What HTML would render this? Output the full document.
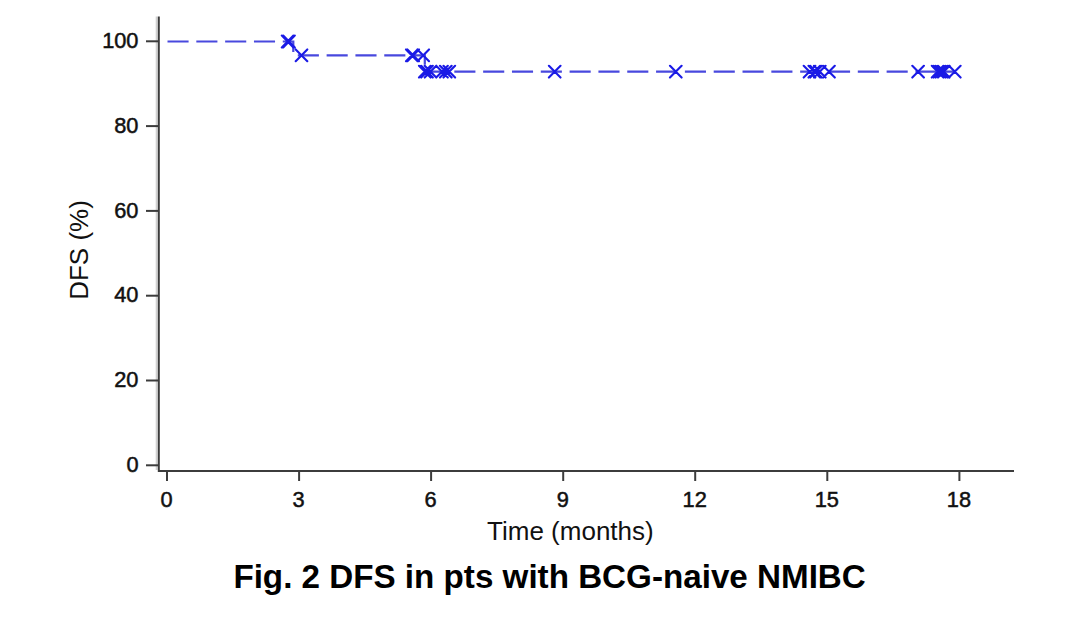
<!DOCTYPE html>
<html><head><meta charset="utf-8"><style>
html,body{margin:0;padding:0;background:#fff;width:1080px;height:619px;overflow:hidden}
svg{position:absolute;left:0;top:0}
text{font-family:"Liberation Sans",sans-serif;fill:#111}
.tk{font-size:21.8px;stroke:#111;stroke-width:0.5px}
.lab{font-size:26px}
.title{font-size:33.2px;font-weight:bold;fill:#000}
</style></head><body>
<svg width="1080" height="619" viewBox="0 0 1080 619">
<path d="M156.6 16.5V470" stroke="#d0d0d0" stroke-width="1.8" fill="none"/>
<g stroke="#3c3c3c" stroke-width="2" fill="none">
<path d="M158.8 16.5V471H1014"/>
<line x1="146" y1="41.3" x2="159" y2="41.3"/><line x1="146" y1="126.1" x2="159" y2="126.1"/><line x1="146" y1="210.9" x2="159" y2="210.9"/><line x1="146" y1="295.7" x2="159" y2="295.7"/><line x1="146" y1="380.5" x2="159" y2="380.5"/><line x1="146" y1="465.3" x2="159" y2="465.3"/><line x1="167.0" y1="471" x2="167.0" y2="481"/><line x1="299.1" y1="471" x2="299.1" y2="481"/><line x1="431.1" y1="471" x2="431.1" y2="481"/><line x1="563.2" y1="471" x2="563.2" y2="481"/><line x1="695.2" y1="471" x2="695.2" y2="481"/><line x1="827.3" y1="471" x2="827.3" y2="481"/><line x1="959.4" y1="471" x2="959.4" y2="481"/>
</g>
<g fill="#111">
<text x="138.5" y="47.9" text-anchor="end" class="tk">100</text><text x="138.5" y="132.7" text-anchor="end" class="tk">80</text><text x="138.5" y="217.5" text-anchor="end" class="tk">60</text><text x="138.5" y="302.3" text-anchor="end" class="tk">40</text><text x="138.5" y="387.1" text-anchor="end" class="tk">20</text><text x="138.5" y="471.9" text-anchor="end" class="tk">0</text><text x="166.5" y="507.3" text-anchor="middle" class="tk">0</text><text x="298.6" y="507.3" text-anchor="middle" class="tk">3</text><text x="430.6" y="507.3" text-anchor="middle" class="tk">6</text><text x="562.7" y="507.3" text-anchor="middle" class="tk">9</text><text x="694.7" y="507.3" text-anchor="middle" class="tk">12</text><text x="826.8" y="507.3" text-anchor="middle" class="tk">15</text><text x="958.9" y="507.3" text-anchor="middle" class="tk">18</text>
<text x="0" y="0" class="lab" transform="translate(88.3 250) rotate(-90)" text-anchor="middle">DFS (%)</text>
<text x="570.4" y="540" class="lab" text-anchor="middle">Time (months)</text>
<text x="549.6" y="588.2" class="title" text-anchor="middle">Fig. 2 DFS in pts with BCG-naive NMIBC</text>
</g>
<path d="M167.5 41.5H293.3V55.3H424.8V71.7H954.8" stroke="#4848de" stroke-width="2.2" fill="none" stroke-dasharray="21.1 7.72"/>
<path d="M281.8 35.6L293.4 47.4M281.8 47.4L293.4 35.6M283.2 35.6L294.8 47.4M283.2 47.4L294.8 35.6M295.7 49.4L307.3 61.2M295.7 61.2L307.3 49.4M406.0 49.4L417.6 61.2M406.0 61.2L417.6 49.4M407.4 49.4L419.0 61.2M407.4 61.2L419.0 49.4M417.4 49.4L429.0 61.2M417.4 61.2L429.0 49.4M419.0 65.8L430.6 77.6M419.0 77.6L430.6 65.8M421.2 65.8L432.8 77.6M421.2 77.6L432.8 65.8M424.7 65.8L436.3 77.6M424.7 77.6L436.3 65.8M436.2 65.8L447.8 77.6M436.2 77.6L447.8 65.8M440.0 65.8L451.6 77.6M440.0 77.6L451.6 65.8M443.5 65.8L455.1 77.6M443.5 77.6L455.1 65.8M548.9 65.8L560.5 77.6M548.9 77.6L560.5 65.8M670.0 65.8L681.6 77.6M670.0 77.6L681.6 65.8M803.7 65.8L815.3 77.6M803.7 77.6L815.3 65.8M808.5 65.8L820.1 77.6M808.5 77.6L820.1 65.8M810.2 65.8L821.8 77.6M810.2 77.6L821.8 65.8M814.0 65.8L825.6 77.6M814.0 77.6L825.6 65.8M823.2 65.8L834.8 77.6M823.2 77.6L834.8 65.8M912.3 65.8L923.9 77.6M912.3 77.6L923.9 65.8M931.8 65.8L943.4 77.6M931.8 77.6L943.4 65.8M933.7 65.8L945.3 77.6M933.7 77.6L945.3 65.8M935.7 65.8L947.3 77.6M935.7 77.6L947.3 65.8M938.0 65.8L949.6 77.6M938.0 77.6L949.6 65.8M949.0 65.8L960.6 77.6M949.0 77.6L960.6 65.8" stroke="#1a1ae6" stroke-width="2.1" stroke-linecap="round" fill="none"/>
</svg>
</body></html>
